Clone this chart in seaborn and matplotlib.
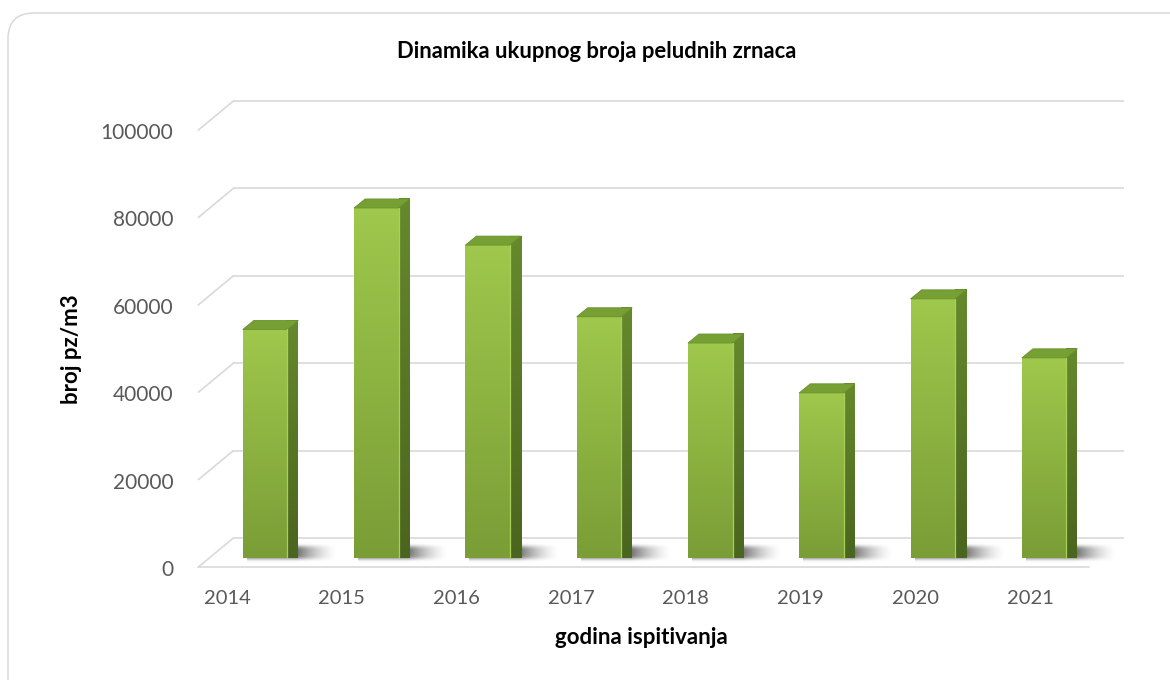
import numpy as np
import pandas as pd
import matplotlib
matplotlib.use("Agg")
import matplotlib.pyplot as plt
from matplotlib.patches import Polygon, FancyBboxPatch
from matplotlib.colors import LinearSegmentedColormap
from matplotlib.transforms import IdentityTransform
import seaborn as sns

# Data
years = ["2014", "2015", "2016", "2017", "2018", "2019", "2020", "2021"]
pollen_counts = [52300, 80100, 71600, 55200, 49200, 37800, 59300, 45800]
y_ticks = [0, 20000, 40000, 60000, 80000, 100000]

title = "Dinamika ukupnog broja peludnih zrnaca"
x_label = "godina ispitivanja"
y_label = "broj pz/m3"

# Layout (pixels, measured on the reference)
W, H = 1170, 680
AX_L, AX_R, AX_T, AX_B = 209.4, 1099.8, 121, 558   # front plane of the bars
DEPTH = (11, 9)      # bar depth (px right, px up)
BACK = (24, 20)      # back wall offset
FRONT = (-11, -9)    # front edge of the floor
GRID = "#d9d9d9"
TICK_COLOR = "#595959"

sns.set_theme(style="white")
plt.rcParams["font.family"] = ["Lato", "DejaVu Sans"]

fig = plt.figure(figsize=(W / 100, H / 100), dpi=100)
ax = fig.add_axes([AX_L / W, 1 - AX_B / H, (AX_R - AX_L) / W, (AX_B - AX_T) / H])
ax.patch.set_alpha(0)

# outer rounded frame (right / bottom run past the image)
frame = FancyBboxPatch((8, -40), W + 40, H - 13 + 40,
                       boxstyle="round,pad=0,rounding_size=26",
                       transform=IdentityTransform(), facecolor="none",
                       edgecolor=GRID, linewidth=1.1, zorder=-5)
fig.patches.append(frame)

df = pd.DataFrame({"year": years, "count": pollen_counts})
sns.barplot(data=df, x="year", y="count", color="#8db43f", saturation=1,
            width=0.4, ax=ax, zorder=5)

n = len(years)
ax.set_xlim(-0.5, n - 0.5)
ax.set_ylim(0, y_ticks[-1])
ax.set_axis_off()

ux = n / (AX_R - AX_L)
uy = y_ticks[-1] / (AX_B - AX_T)


def sh(x, y, off):
    return x + off[0] * ux, y + off[1] * uy


x0, x1 = -0.5, n - 0.5

# back wall gridlines + left wall diagonals
for t in y_ticks:
    bx0, by = sh(x0, t, BACK)
    bx1, _ = sh(x1, t, BACK)
    fx0, fy = sh(x0, t, FRONT)
    ax.plot([bx0, bx1], [by, by], color=GRID, lw=1.2, zorder=1, clip_on=False,
            solid_capstyle="butt")
    ax.plot([fx0, bx0], [fy, by], color=GRID, lw=1.2, zorder=1, clip_on=False)

# floor front edge
fx0, fy = sh(x0, 0, FRONT)
fx1, _ = sh(x1, 0, FRONT)
ax.plot([fx0, fx1], [fy, fy], color=GRID, lw=1.2, zorder=1, clip_on=False)

front_cmap = LinearSegmentedColormap.from_list("front", ["#7a9d36", "#9fc84c"])
side_cmap = LinearSegmentedColormap.from_list("side", ["#4a651f", "#66892c"])
grad = np.linspace(0, 1, 256).reshape(-1, 1)

for bar in list(ax.patches):
    bx = bar.get_x()
    bw = bar.get_width()
    bh = bar.get_height()
    r = bx + bw

    # soft shadow on the floor
    sx0, sy0 = sh(bx, 0, (4, -6))
    sx1, sy1 = sh(r, 0, (50, 17))
    gx = np.linspace(0, 1, 160)
    gy = np.linspace(-1, 1, 50)
    knee = 0.55
    fxp = np.where(gx < knee, 1.0, np.clip(1 - (gx - knee) / (1 - knee), 0, 1) ** 1.6)
    fyp = np.exp(-(gy / 0.6) ** 4)
    alpha = 0.8 * np.outer(fyp, fxp)
    rgba = np.zeros((50, 160, 4))
    rgba[..., :3] = 0.3
    rgba[..., 3] = alpha
    ax.imshow(rgba, extent=[sx0, sx1, sy0, sy1], origin="lower",
              aspect="auto", interpolation="bilinear", zorder=2, clip_on=False)

    # front face gradient
    front = Polygon([(bx, 0), (r, 0), (r, bh), (bx, bh)], closed=True,
                    transform=ax.transData)
    im = ax.imshow(grad, extent=[bx, r, 0, bh], origin="lower", aspect="auto",
                   cmap=front_cmap, zorder=6, clip_on=False)
    im.set_clip_path(front)

    # side face
    side_pts = [(r, 0), sh(r, 0, DEPTH), sh(r, bh, DEPTH), (r, bh)]
    side = Polygon(side_pts, closed=True, transform=ax.transData)
    im = ax.imshow(grad, extent=[r, sh(r, 0, DEPTH)[0], 0, sh(r, bh, DEPTH)[1]],
                   origin="lower", aspect="auto", cmap=side_cmap, zorder=6,
                   clip_on=False)
    im.set_clip_path(side)

    # top face
    top_pts = [(bx, bh), (r, bh), sh(r, bh, DEPTH), sh(bx, bh, DEPTH)]
    ax.add_patch(Polygon(top_pts, closed=True, facecolor="#76a034",
                         edgecolor="#6a9230", lw=0.6, zorder=7, clip_on=False))
    # light rim on front edge
    ax.plot([r, r], [0, bh], color="#a9cf5a", lw=0.9, zorder=7, clip_on=False)

ax.set_xlim(-0.5, n - 0.5)
ax.set_ylim(0, y_ticks[-1])

# tick labels
for t in y_ticks:
    tx, ty = sh(x0, t, (-36, -12))
    ax.text(tx, ty, f"{t}", ha="right", va="center", fontsize=15,
            color=TICK_COLOR)

for i, yr in enumerate(years):
    tx, ty = sh(i, 0, (-38 + 3.4 * i, -40))
    ax.text(tx, ty, yr, ha="center", va="center", fontsize=14.5,
            color=TICK_COLOR)

fig.text(597 / W, 1 - 51 / H, title, ha="center", va="center",
         fontsize=15.8, fontweight="bold", color="black")
fig.text(641 / W, 1 - 638 / H, x_label, ha="center", va="center",
         fontsize=16, fontweight="bold", color="black")
fig.text(71 / W, 1 - 349 / H, y_label, ha="center", va="center",
         rotation=90, fontsize=16, fontweight="bold", color="black")

fig.savefig("out.png", dpi=100, facecolor="white")
